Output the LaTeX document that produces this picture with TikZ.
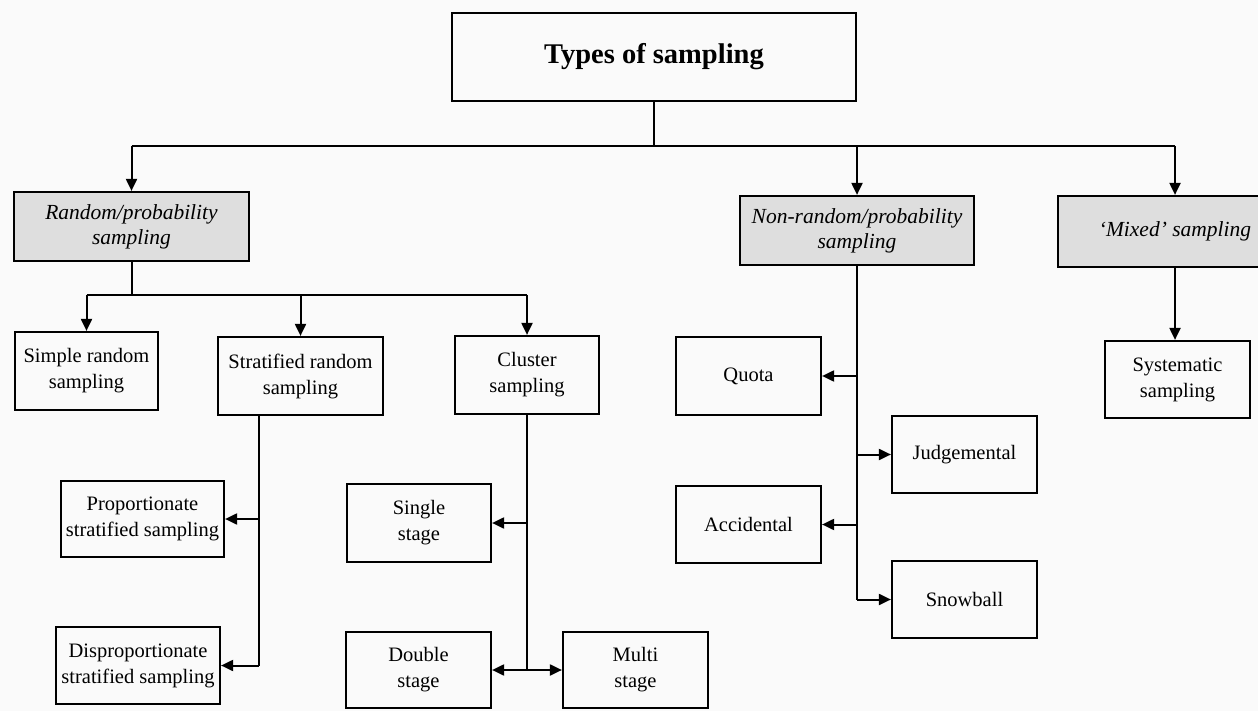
\documentclass[tikz,border=0pt]{standalone}
\usepackage{fontspec}
\setmainfont{Liberation Serif}
\usetikzlibrary{arrows.meta}
\begin{document}
\begin{tikzpicture}[x=1pt,y=-1pt,
  box/.style={draw, line width=2.2pt, align=center, inner sep=0pt,
    font=\fontsize{20.5}{26}\selectfont},
  shaded/.style={box, fill=black!13, font=\fontsize{21.5}{25}\selectfont\itshape},
  conn/.style={line width=2pt},
  arr/.style={conn, -{Triangle[length=12pt,width=11pt]}},
]
\fill[black!2] (0,0) rectangle (1258,711);
\useasboundingbox (0,0) rectangle (1258,711);

% nodes
\node[box, minimum width=404pt, minimum height=88pt,
  font=\fontsize{28.5}{32}\selectfont\bfseries] (top) at (654,57) {Types of sampling};

\node[shaded, minimum width=235pt, minimum height=69pt] (random) at (131.5,226.5) {Random/probability\\sampling};
\node[shaded, minimum width=234pt, minimum height=69pt] (nonrandom) at (857,230.5) {Non-random/probability\\sampling};
\node[shaded, minimum width=234pt, minimum height=71pt] (mixed) at (1175,231.5) {‘Mixed’ sampling};

\node[box, minimum width=143pt, minimum height=78pt] (simple) at (86.5,371) {Simple random\\sampling};
\node[box, minimum width=165pt, minimum height=78pt] (strat) at (300.5,376) {Stratified random\\sampling};
\node[box, minimum width=144pt, minimum height=78pt] (cluster) at (527,375) {Cluster\\sampling};
\node[box, minimum width=145pt, minimum height=78pt] (quota) at (748.5,376) {Quota};
\node[box, minimum width=145pt, minimum height=77pt] (syst) at (1177.5,379.5) {Systematic\\sampling};

\node[box, minimum width=163pt, minimum height=76pt] (prop) at (142.5,519) {Proportionate\\stratified sampling};
\node[box, minimum width=144pt, minimum height=78pt] (single) at (419,523) {Single\\stage};
\node[box, minimum width=145pt, minimum height=77pt] (judg) at (964.5,454.5) {Judgemental};
\node[box, minimum width=145pt, minimum height=77pt] (acc) at (748.5,524.5) {Accidental};
\node[box, minimum width=145pt, minimum height=77pt] (snow) at (964.5,599.5) {Snowball};

\node[box, minimum width=164pt, minimum height=77pt] (disprop) at (138,665.5) {Disproportionate\\stratified sampling};
\node[box, minimum width=145pt, minimum height=76pt] (double) at (418.5,670) {Double\\stage};
\node[box, minimum width=145pt, minimum height=76pt] (multi) at (635.5,670) {Multi\\stage};

% level 1
\coordinate (bus1) at (654,146);
\draw[conn] (top.south) -- (bus1);
\draw[conn] (random.north |- bus1) -- (mixed.north |- bus1);
\draw[arr] (random.north |- bus1) -- (random.north);
\draw[arr] (nonrandom.north |- bus1) -- (nonrandom.north);
\draw[arr] (mixed.north |- bus1) -- (mixed.north);

% random branch
\coordinate (bus2) at (131.5,295);
\draw[conn] (random.south) -- (bus2);
\draw[conn] (simple.north |- bus2) -- (cluster.north |- bus2);
\draw[arr] (simple.north |- bus2) -- (simple.north);
\draw[arr] (strat.north |- bus2) -- (strat.north);
\draw[arr] (cluster.north |- bus2) -- (cluster.north);

% stratified branch
\coordinate (s0) at ([xshift=-42pt]strat.south);
\draw[conn] (s0) -- (s0 |- disprop.east);
\draw[arr] (s0 |- prop.east) -- (prop.east);
\draw[arr] (s0 |- disprop.east) -- (disprop.east);

% cluster branch
\draw[conn] (cluster.south) -- (cluster.south |- double.east);
\draw[arr] (cluster.south |- single.east) -- (single.east);
\draw[arr] (cluster.south |- double.east) -- (double.east);
\draw[arr] (cluster.south |- multi.west) -- (multi.west);

% non-random branch
\draw[conn] (nonrandom.south) -- (nonrandom.south |- snow.west);
\draw[arr] (nonrandom.south |- quota.east) -- (quota.east);
\draw[arr] (nonrandom.south |- judg.west) -- (judg.west);
\draw[arr] (nonrandom.south |- acc.east) -- (acc.east);
\draw[arr] (nonrandom.south |- snow.west) -- (snow.west);

% mixed branch
\draw[arr] (mixed.south) -- (mixed.south |- syst.north);
\end{tikzpicture}
\end{document}
